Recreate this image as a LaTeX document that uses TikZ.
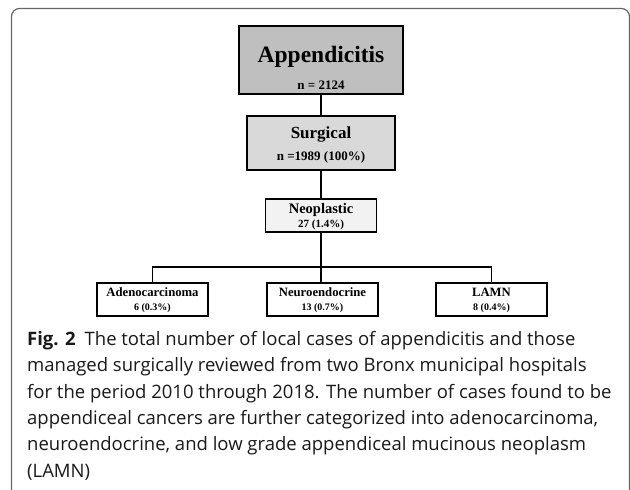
\documentclass[tikz,border=0pt]{standalone}
\usepackage{fontspec}
\newfontfamily\boxfont{Liberation Serif}
\newfontfamily\capfont{Open Sans}
\usetikzlibrary{positioning}

\begin{document}
\begin{tikzpicture}[
  x=1pt, y=-1pt,
  frame/.style={draw=black!60, line width=1.2pt, rounded corners=8pt},
  box/.style={draw=black, line width=1.7pt, align=center, inner sep=0pt},
  link/.style={line width=1.5pt, black},
]
  \useasboundingbox (0,0) rectangle (630,490);
  \clip (0,0) rectangle (630,490);
  \draw[frame] (11.5,8.5) rectangle (629.5,500);

  % tree of counts
  \node[box, fill=black!25, minimum width=164pt, minimum height=68pt,
        font=\boxfont\bfseries\fontsize{12}{27}\selectfont] (appx) at (321,60)
    {\rule{0pt}{31pt}\fontsize{23.5}{26}\selectfont Appendicitis\\
     \fontsize{13}{15}\selectfont n = 2124};
  \node[box, fill=black!15, minimum width=148pt, minimum height=54pt,
        font=\boxfont\bfseries\fontsize{13}{22}\selectfont] (surg) at (321,143)
    {\rule{0pt}{16.3pt}\fontsize{17}{20}\selectfont Surgical\\
     \fontsize{13}{15}\selectfont n =1989 (100\%)};
  \node[box, fill=black!5, minimum width=111pt, minimum height=33pt,
        font=\boxfont\bfseries\fontsize{11}{14}\selectfont] (neo) at (321,215.5)
    {\rule{0pt}{13.2pt}\fontsize{14.5}{16}\selectfont Neoplastic\\
     \fontsize{11}{13}\selectfont 27 (1.4\%)};

  \node[box, fill=white, minimum width=111pt, minimum height=33pt,
        font=\boxfont\bfseries\fontsize{10}{13.5}\selectfont] (adeno) at (152.5,299.5)
    {\rule{0pt}{10.5pt}\fontsize{12.7}{14}\selectfont Adenocarcinoma\\
     \fontsize{10}{12}\selectfont 6 (0.3\%)};
  \node[box, fill=white, minimum width=111pt, minimum height=33pt,
        font=\boxfont\bfseries\fontsize{10}{13.5}\selectfont] (neuro) at (322.5,299.5)
    {\rule{0pt}{10.5pt}\fontsize{12.7}{14}\selectfont Neuroendocrine\\
     \fontsize{10}{12}\selectfont 13 (0.7\%)};
  \node[box, fill=white, minimum width=111pt, minimum height=33pt,
        font=\boxfont\bfseries\fontsize{10}{13.5}\selectfont] (lamn) at (491.5,299.5)
    {\rule{0pt}{10.5pt}\fontsize{12.7}{14}\selectfont LAMN\\
     \fontsize{10}{12}\selectfont 8 (0.4\%)};

  \coordinate (split) at (321,267);
  \draw[link] (appx) -- (surg);
  \draw[link] (surg) -- (neo);
  \draw[link] (neo) -- (split);
  \draw[link] (split) -- (split |- neuro.north);
  \draw[link] (adeno.north) |- (split) -| (lamn.north);

  % caption
  \node[anchor=north west, align=left, inner sep=0pt, text=black!90,
        font=\capfont\fontsize{18.5}{26.4}\selectfont] (cap) at (27,331)
    {\textbf{Fig. 2}\hspace{9pt}The total number of local cases of appendicitis and those\\
     managed surgically reviewed from two Bronx municipal hospitals\\
     for the period 2010 through 2018. The number of cases found to be\\
     appendiceal cancers are further categorized into adenocarcinoma,\\
     neuroendocrine, and low grade appendiceal mucinous neoplasm\\
     (LAMN)};
\end{tikzpicture}
\end{document}
